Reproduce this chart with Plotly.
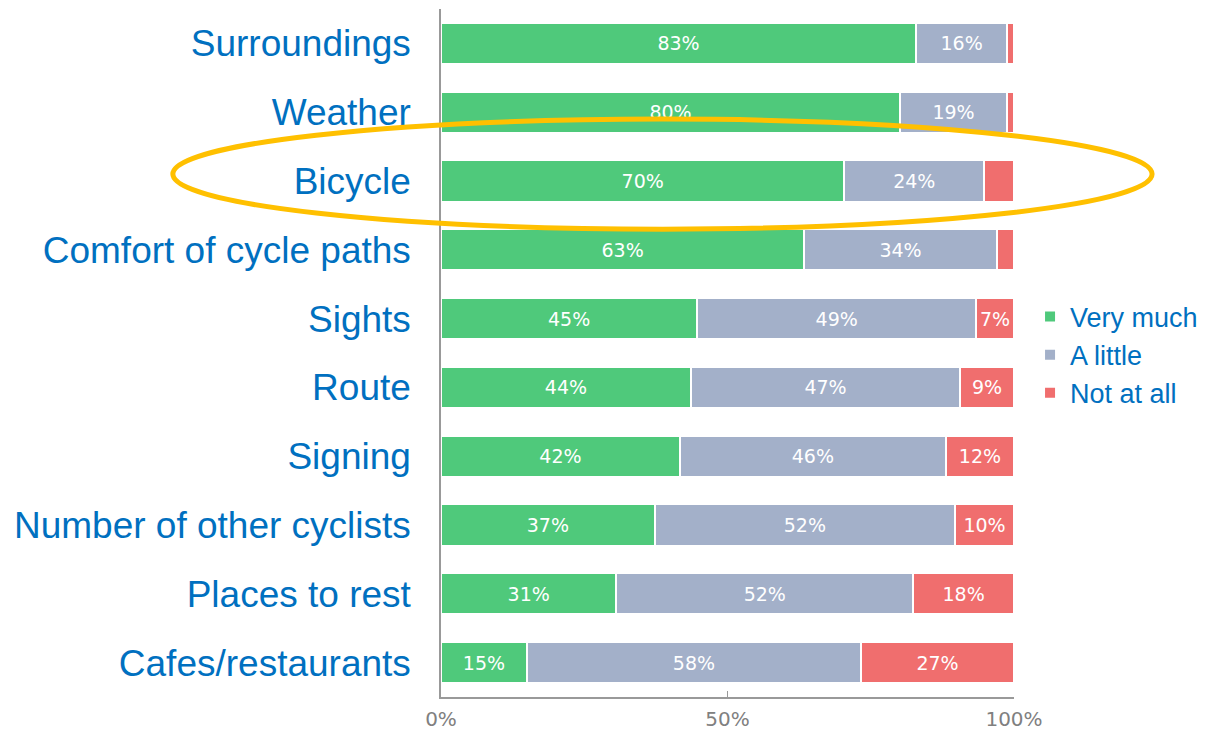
import plotly.graph_objects as go

categories = ["Surroundings", "Weather", "Bicycle", "Comfort of cycle paths", "Sights",
              "Route", "Signing", "Number of other cyclists", "Places to rest", "Cafes/restaurants"]
very_much = [82.9, 80.1, 70.4, 63.4, 44.7, 43.6, 41.7, 37.3, 30.6, 15.0]
a_little = [15.9, 18.7, 24.4, 33.6, 48.7, 47.0, 46.4, 52.4, 51.8, 58.3]
not_at_all = [1.2, 1.2, 5.2, 3.0, 6.6, 9.4, 11.9, 10.3, 17.6, 26.7]
series_names = ["Very much", "A little", "Not at all"]
series_colors = ["#4FC97B", "#A3B0C9", "#F06E6E"]
x_tickvals = [0, 50, 100]
x_ticktext = ["0%", "50%", "100%"]

FONT = "Liberation Sans, Arial, sans-serif"
VFONT = "DejaVu Sans, Verdana, sans-serif"
BLUE = "#0070C0"


def labels(vals):
    return [f"{round(v)}%" if v >= 6 else "" for v in vals]


fig = go.Figure()
for name, vals, col in zip(series_names, [very_much, a_little, not_at_all], series_colors):
    fig.add_trace(go.Bar(
        y=categories, x=vals, name=name, orientation="h",
        marker=dict(color=col, line=dict(color="white", width=2)),
        text=labels(vals), textposition="inside", insidetextanchor="middle",
        textangle=0, constraintext="none",
        textfont=dict(color="white", size=19, family=VFONT),
        hoverinfo="skip",
    ))

# highlight ellipse around "Bicycle" (paper coordinates so it is not clipped)
fig.add_shape(type="circle", xref="paper", yref="paper",
              x0=-0.468, x1=1.241, y0=0.680, y1=0.840,
              line=dict(color="#FFC000", width=5), layer="above")

# the page body has an 8px margin, so the figure is sized 8px smaller
fig.update_layout(
    barmode="stack",
    bargap=0.40,
    width=1206, height=723,
    margin=dict(l=433, r=200, t=1, b=34, autoexpand=False),
    paper_bgcolor="white", plot_bgcolor="white",
    font=dict(family=FONT),
    legend=dict(x=1.028, y=0.497, xanchor="left", yanchor="middle",
                font=dict(size=27, color=BLUE, family=FONT),
                traceorder="normal", itemwidth=30, tracegroupgap=0,
                bgcolor="rgba(0,0,0,0)"),
    showlegend=True,
)
fig.update_yaxes(
    autorange="reversed", categoryorder="array", categoryarray=categories,
    range=[9.5, -0.5], automargin=False,
    showline=True, linecolor="#999999", linewidth=1.5,
    showgrid=False, zeroline=False, ticks="",
    tickfont=dict(size=37, color=BLUE, family=FONT),
    ticklabelstandoff=21,
)
fig.update_xaxes(
    range=[0, 100], tickvals=x_tickvals, ticktext=x_ticktext, automargin=False,
    showline=True, linecolor="#999999", linewidth=1.5,
    showgrid=False, zeroline=False, ticks="inside", ticklen=6, tickcolor="#999999",
    tickfont=dict(size=20, color="#808080", family=VFONT),
    ticklabelstandoff=3,
)

fig.write_html("out.html")
